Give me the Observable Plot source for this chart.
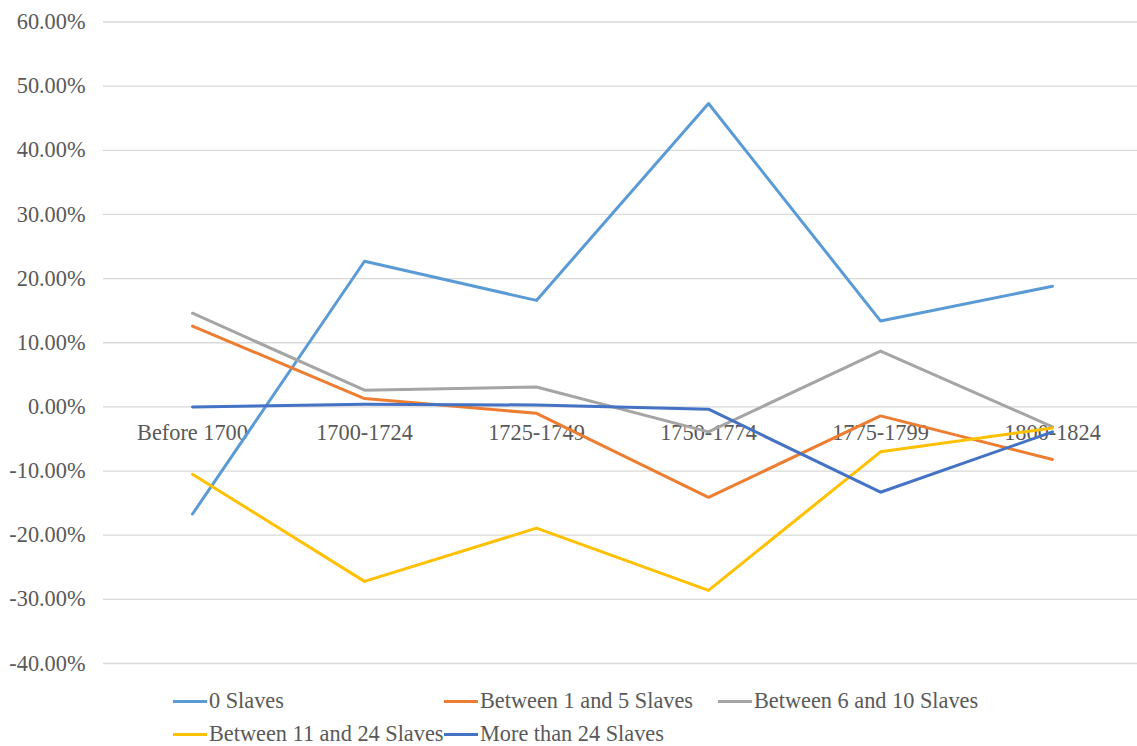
<!DOCTYPE html>
<html>
<head>
<meta charset="utf-8">
<script src="https://cdn.jsdelivr.net/npm/d3@7"></script>
<script src="https://cdn.jsdelivr.net/npm/@observablehq/plot@0.6"></script>
<style>
  html, body { margin: 0; padding: 0; background: #fff; }
  #chart { position: relative; width: 1137px; height: 746px; font-family: "Liberation Serif", "Times New Roman", serif; }
  #legend { position: absolute; left: 173px; top: 688px; display: grid; grid-template-columns: 271px 274px 300px; row-gap: 7px; }
  .item { display: flex; align-items: center; font-size: 22.3px; color: #595959; height: 26px; white-space: nowrap; }
  .swatch { width: 34px; height: 3px; margin-right: 2px; }
</style>
</head>
<body>
<div id="chart"></div>
<script>
// Periods along the x axis
const periods = ["Before 1700", "1700-1724", "1725-1749", "1750-1774", "1775-1799", "1800-1824"];

// Series names and colours
const seriesNames = ["0 Slaves", "Between 1 and 5 Slaves", "Between 6 and 10 Slaves", "Between 11 and 24 Slaves", "More than 24 Slaves"];
const seriesColors = ["#5B9BD5", "#ED7D31", "#A5A5A5", "#FFC000", "#4472C4"];

// Percentage change per period, one array per series
const slaves0 = [-16.7, 22.7, 16.6, 47.3, 13.4, 18.8];
const slaves1to5 = [12.6, 1.3, -1.0, -14.1, -1.4, -8.2];
const slaves6to10 = [14.6, 2.6, 3.1, -3.9, 8.7, -3.1];
const slaves11to24 = [-10.5, -27.2, -18.9, -28.6, -7.0, -3.3];
const slavesOver24 = [0.0, 0.4, 0.3, -0.35, -13.3, -3.9];

// Y axis ticks
const yTicks = [-40, -30, -20, -10, 0, 10, 20, 30, 40, 50, 60];

const seriesValues = [slaves0, slaves1to5, slaves6to10, slaves11to24, slavesOver24];
const rows = seriesNames.flatMap((name, i) =>
  periods.map((p, j) => ({series: name, period: p, value: seriesValues[i][j]}))
);

const textColor = "#595959";
const fontFamily = "'Liberation Serif', 'Times New Roman', serif";
const fontSize = 22.3;

const plot = Plot.plot({
  width: 1137,
  height: 680,
  marginTop: 21.5,
  marginBottom: 17,
  marginLeft: 103,
  marginRight: 0,
  style: {fontFamily, fontSize: fontSize + "px", color: textColor, background: "#fff"},
  x: {type: "point", domain: periods, range: [190, 1053], padding: 0, axis: null},
  y: {domain: [-40, 60], axis: null},
  color: {domain: seriesNames, range: seriesColors},
  marks: [
    Plot.gridY(yTicks, {stroke: "#d9d9d9", strokeOpacity: 1, strokeWidth: 1.3}),
    Plot.axisY(yTicks, {
      tickSize: 0, tickPadding: 18, fontSize, fill: textColor,
      tickFormat: d => d.toFixed(2) + "%", label: null
    }),
    Plot.text(periods, {x: d => d, y: () => 0, dy: 26, fontSize, fill: textColor, text: d => d}),
    Plot.line(rows, {
      x: "period", y: "value", z: "series", stroke: "series",
      strokeWidth: 3, strokeLinejoin: "round", strokeLinecap: "round"
    })
  ]
});

const chart = document.getElementById("chart");
chart.appendChild(plot);

// Legend below the plot
const legend = document.createElement("div");
legend.id = "legend";
seriesNames.forEach((name, i) => {
  const item = document.createElement("div");
  item.className = "item";
  const sw = document.createElement("span");
  sw.className = "swatch";
  sw.style.background = seriesColors[i];
  const label = document.createElement("span");
  label.textContent = name;
  item.appendChild(sw);
  item.appendChild(label);
  legend.appendChild(item);
});
chart.appendChild(legend);
</script>
</body>
</html>
